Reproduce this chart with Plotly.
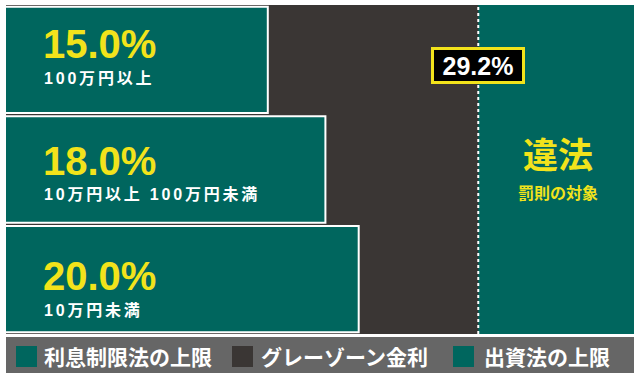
import math
import plotly.graph_objects as go

# ---- data ----
limits = [15.0, 18.0, 20.0]                      # 利息制限法の上限 (%)
limit_labels = ["15.0%", "18.0%", "20.0%"]
amount_labels = ["100万円以上", "10万円以上 100万円未満", "10万円未満"]
gray_zone_limit = 29.2                           # 出資法の上限 (%)
gray_zone_label = "29.2%"
illegal_title = "違法"
illegal_sub = "罰則の対象"
legend_labels = ["利息制限法の上限", "グレーゾーン金利", "出資法の上限"]

# ---- style ----
TEAL = "#00665E"
DARK = "#3A3634"
LEGEND_GRAY = "#666666"
YELLOW = "#F2E31B"
W, H = 640, 379
ML, MR, MT, MB = 6, 6, 5, 45
PW, PH = W - ML - MR, H - MT - MB
LATIN = "Liberation Sans, Noto Sans CJK JP, sans-serif"
CJK = "Noto Sans CJK JP, sans-serif"
X_RANGE = [math.log10(6.55), math.log10(47.8)]


def px(x):
    return (x - ML) / PW


def py(y):
    return (MT + PH - y) / PH


def spaced(s, ls):
    return '<span style="letter-spacing:%spx">%s</span>' % (ls, s)


fig = go.Figure()
fig.add_trace(go.Bar(
    x=limits, y=list(range(len(limits))), orientation="h",
    name=legend_labels[0],
    marker=dict(color=TEAL, line=dict(color="white", width=2)),
    showlegend=False, hoverinfo="skip",
))

shapes = [
    dict(type="rect", xref="x", yref="paper", x0=gray_zone_limit, x1=1000,
         y0=0, y1=1, fillcolor=TEAL, line=dict(width=0), layer="below"),
    dict(type="line", xref="x", yref="paper", x0=gray_zone_limit, x1=gray_zone_limit,
         y0=0, y1=1, line=dict(color="white", width=2, dash="dot"), layer="above"),
    dict(type="rect", xref="paper", yref="paper", x0=px(6), x1=px(634),
         y0=py(373), y1=py(337), fillcolor=LEGEND_GRAY, line=dict(width=0)),
]
legend_sq = [(16, TEAL), (232, DARK), (453, TEAL)]
legend_tx = [42, 259, 482]
for (sx, col) in legend_sq:
    shapes.append(dict(type="rect", xref="paper", yref="paper", x0=px(sx), x1=px(sx + 21),
                       y0=py(367), y1=py(346), fillcolor=col, line=dict(width=0)))

annotations = []
pct_y = [44, 161, 276]
sub_y = [79, 194, 310]
for i in range(len(limits)):
    annotations.append(dict(
        x=px(41), y=py(pct_y[i]), xref="paper", yref="paper", xanchor="left", yanchor="middle",
        text="<b>%s</b>" % limit_labels[i], showarrow=False,
        font=dict(family=LATIN, size=40, color=YELLOW)))
    annotations.append(dict(
        x=px(42), y=py(sub_y[i]), xref="paper", yref="paper", xanchor="left", yanchor="middle",
        text="<b>%s</b>" % spaced(amount_labels[i], 2.8), showarrow=False,
        font=dict(family=LATIN, size=16, color="white")))

annotations.append(dict(
    x=math.log10(gray_zone_limit), y=py(65), xref="x", yref="paper",
    xanchor="center", yanchor="middle", text="<b>%s</b>" % gray_zone_label, showarrow=False,
    font=dict(family=LATIN, size=25, color="white"),
    bgcolor="black", bordercolor=YELLOW, borderwidth=3, borderpad=0, width=88, height=31))

annotations.append(dict(
    x=px(558), y=py(153), xref="paper", yref="paper", xanchor="center", yanchor="middle",
    text="<b>%s</b>" % illegal_title, showarrow=False,
    font=dict(family=CJK, size=35, color=YELLOW)))
annotations.append(dict(
    x=px(558), y=py(192), xref="paper", yref="paper", xanchor="center", yanchor="middle",
    text="<b>%s</b>" % illegal_sub, showarrow=False,
    font=dict(family=CJK, size=16, color=YELLOW)))

for tx, lab in zip(legend_tx, legend_labels):
    annotations.append(dict(
        x=px(tx), y=py(356), xref="paper", yref="paper", xanchor="left", yanchor="middle",
        text="<b>%s</b>" % lab, showarrow=False,
        font=dict(family=CJK, size=21, color="white")))

fig.update_layout(
    width=W, height=H,
    margin=dict(l=ML, r=MR, t=MT, b=MB, pad=0),
    paper_bgcolor="white", plot_bgcolor=DARK,
    bargap=0.03,
    xaxis=dict(type="log", range=X_RANGE, visible=False, showgrid=False, zeroline=False),
    yaxis=dict(range=[2.5, -0.5], visible=False, showgrid=False, zeroline=False),
    shapes=shapes, annotations=annotations,
    showlegend=False,
)

fig.write_html("out.html", config={"displayModeBar": False},
               post_script="document.body.style.margin='0';document.body.style.overflow='hidden';")
